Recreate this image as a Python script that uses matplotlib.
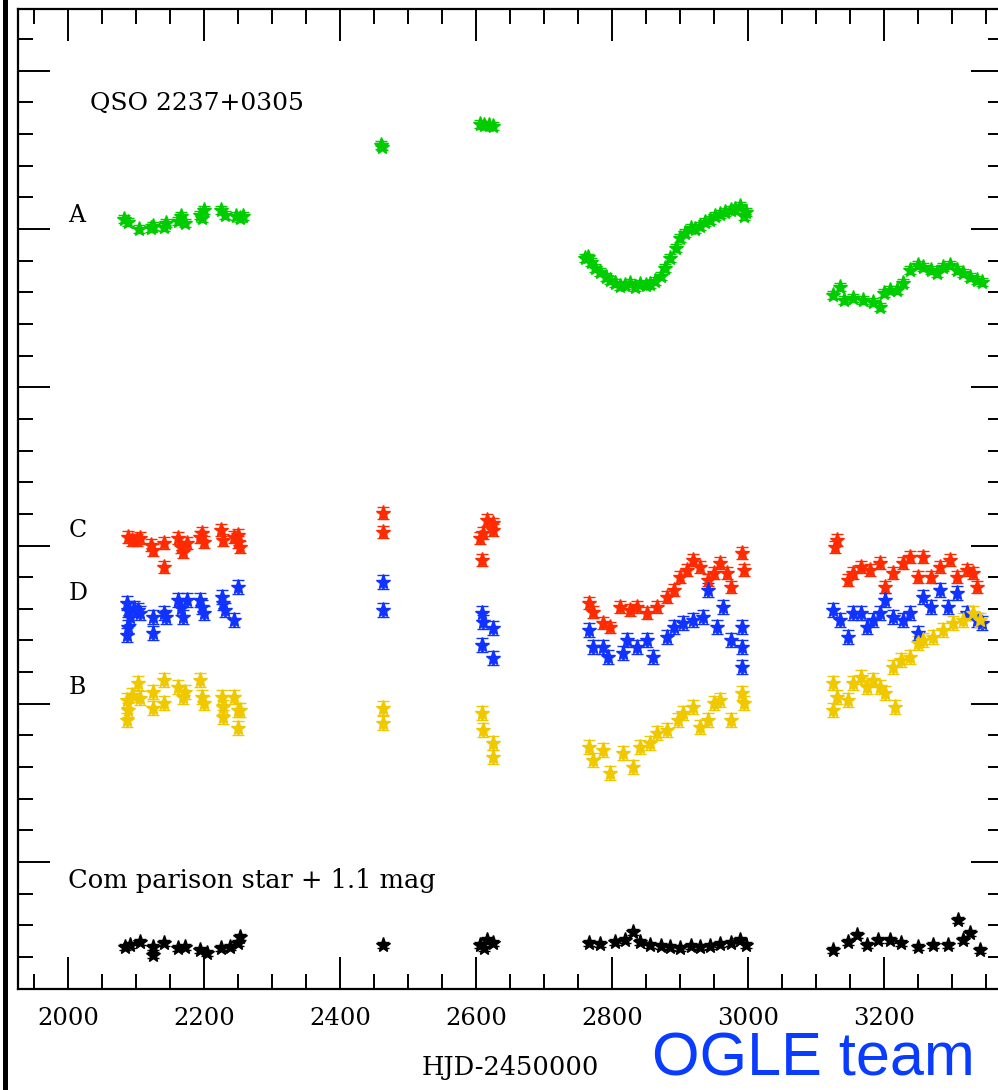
import matplotlib.pyplot as plt
from matplotlib.ticker import MultipleLocator
from matplotlib.patches import Rectangle

# ----- light curves (HJD-2450000, magnitude) -----
hjd_a = [2082, 2088, 2104, 2121, 2124, 2140, 2143, 2162, 2165, 2171, 2194, 2197, 2200, 2225, 2231, 2246, 2253, 2257,
         2460, 2462,
         2606, 2612, 2618, 2625,
         2760, 2764, 2768, 2775, 2782, 2790, 2797, 2804, 2812, 2819, 2826, 2834, 2841, 2849, 2856, 2863, 2871, 2878,
         2885, 2893, 2900, 2907, 2915, 2922, 2929, 2937, 2944, 2951, 2959, 2966, 2974, 2981, 2988, 2996, 2994,
         3125, 3135, 3140, 3154, 3169, 3184, 3194, 3199, 3209, 3219, 3228, 3238, 3249, 3257, 3268, 3278, 3287, 3297,
         3307, 3316, 3326, 3337, 3344]
mag_a = [16.968, 16.978, 17.000, 16.997, 16.991, 16.994, 16.981, 16.975, 16.959, 16.981, 16.956, 16.965, 16.940,
         16.940, 16.956, 16.959, 16.965, 16.959,
         16.735, 16.740,
         16.668, 16.672, 16.673, 16.674,
         17.092, 17.090, 17.104, 17.123, 17.136, 17.152, 17.161, 17.171, 17.180, 17.177, 17.171, 17.183, 17.174,
         17.177, 17.174, 17.164, 17.148, 17.123, 17.092, 17.060, 17.028, 17.013, 16.997, 17.000, 16.991, 16.978,
         16.972, 16.959, 16.953, 16.946, 16.940, 16.937, 16.927, 16.946, 16.960,
         17.209, 17.183, 17.224, 17.218, 17.224, 17.231, 17.246, 17.202, 17.193, 17.193, 17.171, 17.130, 17.114,
         17.120, 17.130, 17.139, 17.120, 17.114, 17.130, 17.139, 17.152, 17.161, 17.167]

hjd_c = [2088, 2094, 2101, 2106, 2121, 2124, 2140, 2140, 2162, 2165, 2169, 2175, 2194, 2199, 2197, 2224, 2228, 2243,
         2249, 2253, 2250,
         2463, 2463,
         2616, 2610, 2624, 2609, 2606, 2624,
         2765, 2771, 2787, 2797, 2812, 2826, 2837, 2851, 2866, 2881, 2890, 2900, 2910, 2919, 2929, 2940, 2949, 2959,
         2969, 2974, 2991, 2993,
         3128, 3131, 3146, 3154, 3165, 3179, 3194, 3201, 3213, 3228, 3238, 3250, 3257, 3268, 3282, 3297, 3307, 3322,
         3331, 3337]
mag_c = [17.973, 17.983, 17.983, 17.976, 17.998, 18.014, 17.992, 18.068, 17.976, 18.005, 18.021, 17.992, 17.973,
         17.989, 17.960, 17.951, 17.983, 17.973, 17.989, 18.005, 17.967,
         17.897, 17.957,
         17.919, 17.960, 17.951, 18.046, 17.976, 17.930,
         18.182, 18.210, 18.245, 18.258, 18.194, 18.204, 18.194, 18.213, 18.194, 18.163, 18.141, 18.100, 18.077,
         18.046, 18.068, 18.109, 18.087, 18.055, 18.087, 18.131, 18.024, 18.077,
         18.005, 17.983, 18.109, 18.087, 18.068, 18.077, 18.055, 18.131, 18.087, 18.055, 18.036, 18.100, 18.036,
         18.100, 18.068, 18.046, 18.100, 18.077, 18.087, 18.131]

hjd_d = [2087, 2088, 2091, 2088, 2087, 2096, 2103, 2106, 2124, 2124, 2140, 2143, 2162, 2165, 2168, 2175, 2194, 2197,
         2199, 2226, 2228, 2231, 2243, 2250,
         2463, 2463,
         2609, 2610, 2624, 2609, 2624,
         2765, 2771, 2787, 2793, 2815, 2822, 2837, 2851, 2860, 2881, 2890, 2904, 2919, 2934, 2941, 2954, 2963, 2974,
         2991, 2991, 2991,
         3125, 3135, 3146, 3154, 3165, 3175, 3184, 3194, 3201, 3213, 3228, 3238, 3250, 3257, 3268, 3282, 3293, 3307,
         3322, 3337, 3344]
mag_d = [18.182, 18.204, 18.226, 18.258, 18.283, 18.197, 18.204, 18.213, 18.226, 18.276, 18.213, 18.226, 18.172,
         18.197, 18.226, 18.172, 18.172, 18.194, 18.213, 18.163, 18.182, 18.204, 18.235, 18.131,
         18.115, 18.204,
         18.213, 18.242, 18.261, 18.314, 18.355,
         18.267, 18.321, 18.321, 18.352, 18.340, 18.299, 18.321, 18.299, 18.352, 18.289, 18.258, 18.245, 18.235,
         18.226, 18.141, 18.258, 18.194, 18.299, 18.258, 18.321, 18.384,
         18.204, 18.235, 18.289, 18.213, 18.213, 18.258, 18.235, 18.213, 18.172, 18.226, 18.235, 18.213, 18.276,
         18.163, 18.194, 18.141, 18.194, 18.150, 18.213, 18.235, 18.245]

hjd_b = [2087, 2088, 2087, 2094, 2103, 2106, 2124, 2124, 2140, 2140, 2162, 2168, 2172, 2194, 2197, 2199, 2226, 2228,
         2228, 2243, 2249, 2253, 2250,
         2463, 2463,
         2609, 2610, 2624, 2624,
         2765, 2771, 2787, 2797, 2815, 2831, 2841, 2856, 2866, 2881, 2896, 2904, 2919, 2929, 2940, 2949, 2959, 2974,
         2991, 2993,
         3125, 3131, 3125, 3146, 3154, 3165, 3175, 3184, 3194, 3201, 3216, 3213, 3224, 3238, 3249, 3257, 3272, 3287,
         3301, 3316, 3331, 3341]
mag_b = [18.488, 18.520, 18.551, 18.472, 18.434, 18.482, 18.463, 18.513, 18.425, 18.498, 18.447, 18.479, 18.463,
         18.425, 18.479, 18.498, 18.479, 18.510, 18.542, 18.479, 18.520, 18.520, 18.577,
         18.513, 18.561,
         18.529, 18.583, 18.624, 18.668,
         18.637, 18.678, 18.646, 18.719, 18.656, 18.700, 18.637, 18.624, 18.592, 18.583, 18.551, 18.529, 18.510,
         18.573, 18.551, 18.498, 18.488, 18.551, 18.466, 18.498,
         18.434, 18.479, 18.520, 18.488, 18.434, 18.415, 18.447, 18.425, 18.447, 18.466, 18.510, 18.384, 18.362,
         18.352, 18.308, 18.299, 18.289, 18.267, 18.245, 18.235, 18.213, 18.235]

# comparison star, shifted by +1.1 mag
hjd_s = [2084, 2091, 2106, 2124, 2124, 2140, 2162, 2172, 2194, 2204, 2224, 2238, 2250, 2253,
         2463,
         2606, 2616, 2624, 2612,
         2765, 2782, 2804, 2819, 2831, 2841, 2856, 2871, 2885, 2900, 2915, 2929, 2944, 2959, 2974, 2988, 2996,
         3125, 3146, 3160, 3175, 3190, 3209, 3224, 3249, 3272, 3293, 3309, 3316, 3326, 3341]
mag_s = [19.269, 19.262, 19.253, 19.269, 19.294, 19.256, 19.272, 19.269, 19.278, 19.288, 19.272, 19.269, 19.256,
         19.237,
         19.262,
         19.262, 19.246, 19.256, 19.270,
         19.256, 19.259, 19.253, 19.246, 19.221, 19.253, 19.262, 19.265, 19.269, 19.272, 19.265, 19.269, 19.265,
         19.259, 19.256, 19.246, 19.262,
         19.278, 19.253, 19.231, 19.262, 19.246, 19.246, 19.256, 19.269, 19.262, 19.262, 19.183, 19.246, 19.224,
         19.278]

# name, x, y, colour, error
series = [
    ("A", hjd_a, mag_a, "#00cc00", 0.012),
    ("C", hjd_c, mag_c, "#ff2a00", 0.018),
    ("D", hjd_d, mag_d, "#1033ff", 0.022),
    ("B", hjd_b, mag_b, "#f0c800", 0.022),
    ("comp", hjd_s, mag_s, "black", 0.010),
]

labels = ["A", "C", "D", "B"]
label_mag = [16.956, 17.951, 18.150, 18.450]

W, H = 998, 1090
fig = plt.figure(figsize=(W / 100, H / 100), dpi=100)
ax = fig.add_axes([18 / W, 1 - 989 / H, 985.3 / W, 980 / H])

for name, x, y, c, e in series:
    ax.errorbar(x, y, yerr=e, fmt="*", ms=11, color=c, ecolor=c,
                elinewidth=2.0, capsize=4, capthick=2.0, mew=1.0)

ax.set_xlim(1926, 3375)
ax.set_ylim(19.401, 16.305)

serif = "DejaVu Serif"
ax.text(2032, 16.602, "QSO 2237+0305", fontsize=18, family=serif, va="center")
for lab, m in zip(labels, label_mag):
    ax.text(2000, m, lab, fontsize=17, family=serif, va="center")
ax.text(2000, 19.057, "Com parison star + 1.1 mag", fontsize=18.5, family=serif, va="center")

# ticks inward on every side
ax.xaxis.set_major_locator(MultipleLocator(200))
ax.xaxis.set_minor_locator(MultipleLocator(50))
ax.yaxis.set_major_locator(MultipleLocator(0.5))
ax.yaxis.set_minor_locator(MultipleLocator(0.1))
ax.tick_params(which="both", direction="in", top=True, right=True, width=1.4,
               labelleft=False, labelsize=17.5, pad=13)
ax.tick_params(which="major", length=23)
ax.tick_params(which="minor", length=11)
for lab in ax.get_xticklabels():
    lab.set_family(serif)
for s in ax.spines.values():
    s.set_linewidth(1.6)

fig.text(510 / W, 1 - 1068 / H, "HJD-2450000", fontsize=18.5, family=serif,
         ha="center", va="center")
# credit sits at the very bottom edge
fig.text(652 / W, 1 / H, "OGLE team", fontsize=44, color="#0a3cff",
         family="Liberation Sans", ha="left", va="bottom")

# thick frame edge on the far left
fig.add_artist(Rectangle((3 / W, 0), 5 / W, 1, transform=fig.transFigure,
                         color="black", lw=0))

fig.savefig("out.png", dpi=100)
